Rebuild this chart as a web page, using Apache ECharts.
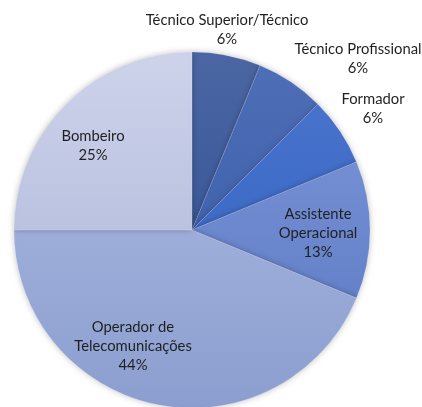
<!DOCTYPE html>
<html>
<head>
<meta charset="utf-8">
<script src="https://cdn.jsdelivr.net/npm/echarts@6/dist/echarts.min.js"></script>
<style>
  html, body { margin: 0; padding: 0; background: #fff; }
  #chart { width: 422px; height: 407px; }
</style>
</head>
<body>
<div id="chart"></div>
<script>
// dados do gráfico (contagens por categoria)
const categorias = ['Técnico Superior/Técnico', 'Técnico Profissional', 'Formador',
    'Assistente\nOperacional', 'Operador de\nTelecomunicações', 'Bombeiro'];
const contagens = [1, 1, 1, 2, 7, 4];

// cores: topo / fundo do gradiente
const coresTopo = ['#4b66a3', '#4f6fb8', '#4b76cf', '#8099d9', '#b1bee5', '#ced3eb'];
const coresFundo = ['#2a4a8c', '#3355a2', '#2f5fbd', '#5876c2', '#8b9ecf', '#a8b2d6'];

// posições das etiquetas (centro do texto)
const posEtiquetas = [[227, 30], [358, 59], [373, 109], [318, 233], [133, 346], [93, 146]];

const chart = echarts.init(document.getElementById('chart'));

const cx = 192, cy = 230, raio = 178;

const dados = categorias.map(function (nome, i) {
    return {
        name: nome,
        value: contagens[i],
        itemStyle: {
            color: {
                type: 'linear', x: 0, y: cy - raio, x2: 0, y2: cy + raio, global: true,
                colorStops: [{ offset: 0, color: coresTopo[i] }, { offset: 1, color: coresFundo[i] }]
            }
        }
    };
});

chart.setOption({
    animation: false,
    series: [{
        type: 'pie',
        center: [cx, cy],
        radius: [0, raio],
        startAngle: 90,
        clockwise: true,
        percentPrecision: 0,
        data: dados,
        itemStyle: {
            borderColor: 'rgba(255,255,255,0.25)',
            borderWidth: 0.6,
            shadowBlur: 6,
            shadowColor: 'rgba(0,0,0,0.25)'
        },
        label: {
            show: true,
            position: 'inside',
            formatter: '{b}\n{d}%',
            color: '#1f1f1f',
            fontFamily: 'Lato',
            fontSize: 14.8,
            lineHeight: 19,
            align: 'center'
        },
        labelLine: { show: false },
        labelLayout: function (params) {
            const p = posEtiquetas[params.dataIndex];
            return { x: p[0], y: p[1], align: 'center', verticalAlign: 'middle' };
        },
        emphasis: { disabled: true }
    }]
});
</script>
</body>
</html>
